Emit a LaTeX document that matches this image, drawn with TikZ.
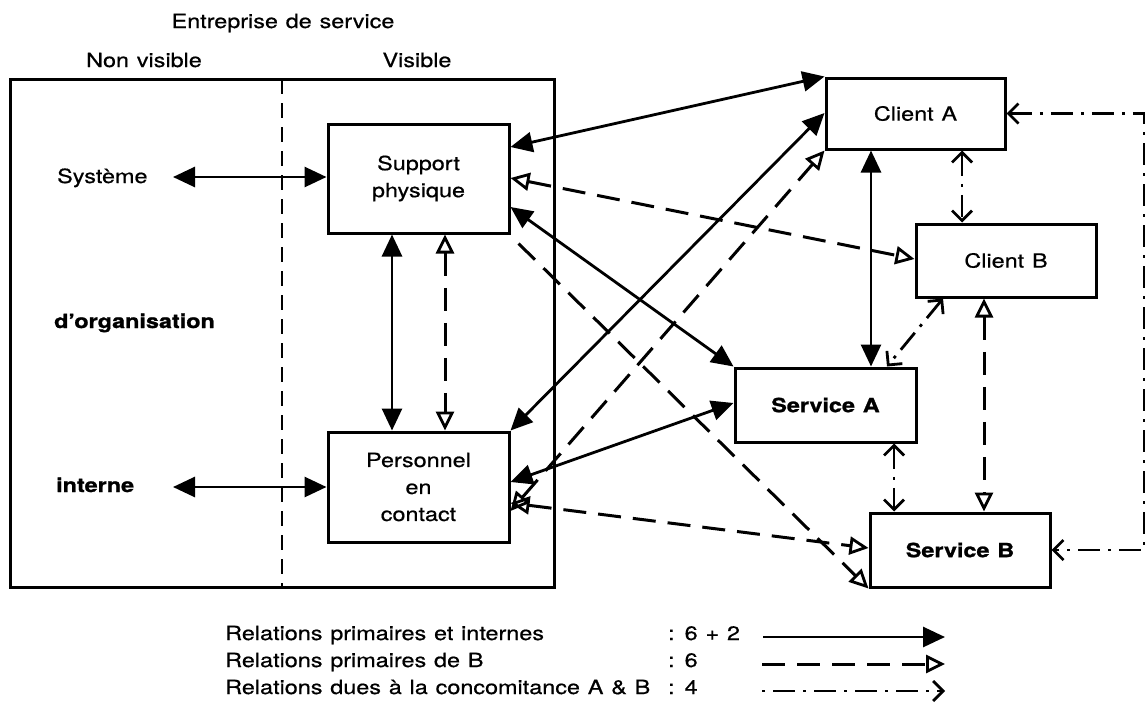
\documentclass[tikz,border=0pt]{standalone}
\usepackage{fontspec}
\setmainfont{TeX Gyre Heros}[FakeStretch=1.2, WordSpace=1.2, FakeBold=0.6, BoldFeatures={FakeBold=1.2}]
\usetikzlibrary{arrows.meta}
\tikzset{
  box/.style={draw, line width=3pt, inner sep=0pt, align=center},
  lbl/.style={inner sep=0pt, align=center},
  solidrel/.style={line width=2.8pt, {Triangle[length=22pt,width=20pt]}-{Triangle[length=22pt,width=20pt]}},
  dashrel/.style={line width=3pt, dash pattern=on 23pt off 12pt, {Triangle[open,length=19pt,width=18pt,line width=2.8pt]}-{Triangle[open,length=19pt,width=18pt,line width=2.8pt]}},
  dotrel/.style={line width=2.8pt, dash pattern=on 22pt off 8pt on 3pt off 8pt, {Straight Barb[length=10pt,width=20pt,line width=2.8pt]}-{Straight Barb[length=10pt,width=20pt,line width=2.8pt]}},
}
\begin{document}
\begin{tikzpicture}[x=1pt,y=-1pt, font=\fontsize{19.5}{27}\selectfont]
\useasboundingbox[fill=white] (0,0) rectangle (1147,718);

% enterprise frame
\node[box, minimum width=544pt, minimum height=508pt] (ent) at (282,333) {};
\coordinate (divT) at (282,79);
\coordinate (divB) at (282,587);
\draw[line width=2pt, dash pattern=on 15pt off 9pt] (divT) -- (divB);

\node[lbl, anchor=base] (title) at (283,28) {Entreprise de service};
\node[lbl, anchor=base] (nv) at (144,67) {Non visible};
\node[lbl, anchor=base] (vis) at (417,67) {Visible};

\node[lbl, anchor=base west] (sys) at (57,183) {Système};
\node[lbl, anchor=base west, font=\fontsize{19.5}{27}\selectfont\bfseries] (org) at (54,328) {d’organisation};
\node[lbl, anchor=base west, font=\fontsize{19.5}{27}\selectfont\bfseries] (int) at (56,492) {interne};

% boxes
\node[box, minimum width=181pt, minimum height=109pt] (sup) at (418.5,178.5) {Support\\physique};
\node[box, minimum width=181pt, minimum height=110pt] (per) at (418.5,487) {Personnel\\en\\contact};
\node[box, minimum width=179pt, minimum height=71pt] (ca) at (915.5,113.5) {Client A};
\node[box, minimum width=180pt, minimum height=73pt] (cb) at (1006,260.5) {Client B};
\node[box, minimum width=181pt, minimum height=74pt, font=\fontsize{19.5}{27}\selectfont\bfseries] (sa) at (825.5,405) {Service A};
\node[box, minimum width=180pt, minimum height=74pt, font=\fontsize{19.5}{27}\selectfont\bfseries] (sb) at (960,550) {Service B};

% free ends
\coordinate (sysA) at (173,177);
\coordinate (intA) at (173,487);
\coordinate (rx) at (1144,0);

% solid relations
\draw[solidrel] (sysA) -- (sysA -| sup.west);
\draw[solidrel] (intA) -- (intA -| per.west);
\draw[solidrel] ([xshift=-26.5pt]sup.south) -- ([xshift=-26.5pt]per.north);
\draw[solidrel] ([yshift=31.5pt]sup.east) -- (ca.north west);
\draw[solidrel] ([yshift=-28.5pt]sup.east) -- (sa.north west);
\draw[solidrel] (per.north east) -- ([yshift=0.5pt]ca.west);
\draw[solidrel] ([yshift=5pt]per.east) -- ([yshift=2pt]sa.west);
\draw[solidrel] ([xshift=-44.5pt]ca.south) -- ([xshift=45.5pt]sa.north);

% dashed relations
\draw[dashrel] ([xshift=26.5pt]sup.south) -- ([xshift=26.5pt]per.north);
\draw[dashrel] ([yshift=0.5pt]sup.east) -- ([yshift=1.5pt]cb.west);
\draw[dashrel, arrows={-Triangle[open,length=19pt,width=18pt,line width=2.8pt]}] ([shift={(8,9)}]sup.south east) -- (sb.south west);
\draw[dashrel] ([yshift=-24pt]per.east) -- (ca.south west);
\draw[dashrel] ([yshift=-16pt]per.east) -- ([yshift=2pt]sb.west);
\draw[dashrel] ([xshift=-22pt]cb.south) -- ([xshift=24pt]sb.north);

% dash-dot relations
\draw[dotrel] ([xshift=46.5pt]ca.south) -- ([xshift=-44pt]cb.north);
\draw[dotrel] ([xshift=-63pt]cb.south) -- ([xshift=61.5pt]sa.north);
\draw[dotrel] ([xshift=68.5pt]sa.south) -- ([xshift=-66pt]sb.north);
\draw[dotrel] (ca.east) -- (ca.east -| rx) -- (sb.east -| rx) -- (sb.east);

% legend
\node[lbl, anchor=base west] (l1) at (225,640) {Relations primaires et internes};
\node[lbl, anchor=base west] (l2) at (225,667) {Relations primaires de B};
\node[lbl, anchor=base west] (l3) at (225,694) {Relations dues à la concomitance A \& B};
\node[lbl, anchor=base west] (v1) at (668,640) {: 6 + 2};
\node[lbl, anchor=base west] (v2) at (668,667) {: 6};
\node[lbl, anchor=base west] (v3) at (668,694) {: 4};
\coordinate (a1s) at (763,637); \coordinate (a1e) at (945,637);
\coordinate (a2s) at (762,664); \coordinate (a2e) at (945,664);
\coordinate (a3s) at (762,691); \coordinate (a3e) at (945,691);
\draw[solidrel, arrows={-Triangle[length=22pt,width=20pt]}] (a1s) -- (a1e);
\draw[dashrel, arrows={-Triangle[open,length=19pt,width=18pt,line width=2.8pt]}] (a2s) -- (a2e);
\draw[dotrel, dash pattern=on 3pt off 8pt on 22pt off 8pt, arrows={-Straight Barb[length=10pt,width=20pt,line width=2.8pt]}] (a3s) -- (a3e);
\end{tikzpicture}
\end{document}
